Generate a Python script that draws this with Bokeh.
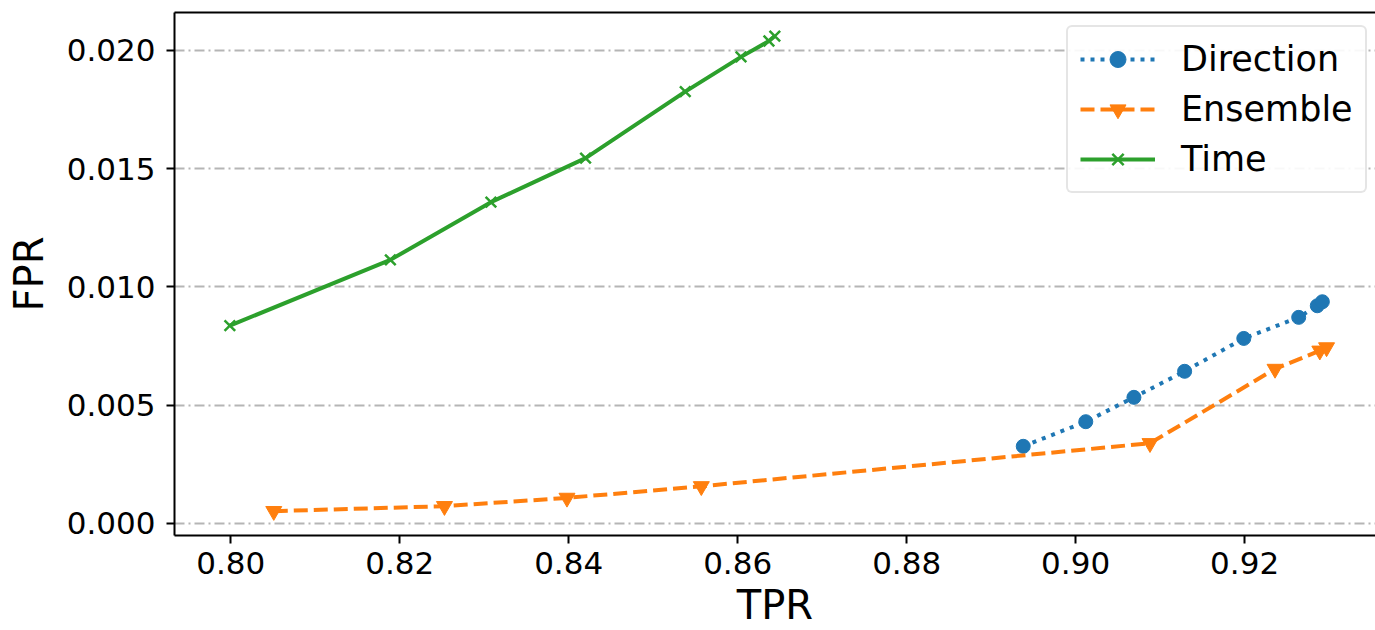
from bokeh.plotting import figure
from bokeh.models import (Range1d, FixedTicker, NumeralTickFormatter, LinearAxis,
                          Legend, LegendItem)
from bokeh.embed import file_html
from bokeh.resources import INLINE

# ---- data ----
direction_tpr = [0.8938, 0.9012, 0.9069, 0.9129, 0.9199, 0.9264, 0.9286, 0.9292]
direction_fpr = [0.00326, 0.00430, 0.00533, 0.00643, 0.00782, 0.00871, 0.00920, 0.00937]

ensemble_tpr = [0.8051, 0.8253, 0.8398, 0.8557, 0.9088, 0.9236, 0.9289, 0.9297]
ensemble_fpr = [0.00052, 0.00073, 0.00108, 0.00157, 0.00339, 0.00653, 0.00730, 0.00744]

time_tpr = [0.7999, 0.8189, 0.8308, 0.8420, 0.8538, 0.8604, 0.8637, 0.8644]
time_fpr = [0.00836, 0.01114, 0.01358, 0.01544, 0.01825, 0.01972, 0.02039, 0.02060]

x_ticks = [0.80, 0.82, 0.84, 0.86, 0.88, 0.90, 0.92]
y_ticks = [0.000, 0.005, 0.010, 0.015, 0.020]

FONT = "DejaVu Sans"
BLUE, ORANGE, GREEN = "#1f77b4", "#ff7f0e", "#2ca02c"

p = figure(width=1375, height=630, output_backend="svg", toolbar_location=None,
           x_range=Range1d(0.79335, 0.93549), y_range=Range1d(-0.00051, 0.021596),
           min_border_left=174, min_border_right=0, min_border_top=12, min_border_bottom=95)
p.outline_line_color = None
p.background_fill_color = "white"
p.border_fill_color = "white"

# axes
for ax, ticks, fmt in ((p.xaxis[0], x_ticks, "0.00"), (p.yaxis[0], y_ticks, "0.000")):
    ax.ticker = FixedTicker(ticks=ticks)
    ax.formatter = NumeralTickFormatter(format=fmt)
    ax.major_label_text_font = FONT
    ax.major_label_text_font_size = "31px"
    ax.major_label_text_color = "black"
    ax.axis_line_color = "black"
    ax.axis_line_width = 2
    ax.major_tick_line_color = "black"
    ax.major_tick_line_width = 2
    ax.major_tick_out = 8
    ax.major_tick_in = 0
    ax.minor_tick_line_color = None
    ax.axis_label_text_font = FONT
    ax.axis_label_text_font_style = "normal"
    ax.axis_label_text_color = "black"

p.xaxis.axis_label = "TPR"
p.xaxis.axis_label_text_font_size = "40px"
p.xaxis.major_label_standoff = 8
p.xaxis.axis_label_standoff = 5
p.yaxis.axis_label = "FPR"
p.yaxis.axis_label_text_font_size = "40px"
p.yaxis.major_label_standoff = 11
p.yaxis.axis_label_standoff = 12

top = LinearAxis(ticker=FixedTicker(ticks=[]), major_label_text_font_size="0px",
                 major_tick_out=0, major_tick_in=0, minor_tick_out=0, minor_tick_in=0,
                 major_label_standoff=0, axis_line_color="black", axis_line_width=2)
p.add_layout(top, "above")

# grid
p.xgrid.grid_line_color = None
p.ygrid.ticker = FixedTicker(ticks=y_ticks)
p.ygrid.grid_line_color = "#b5b5b5"
p.ygrid.grid_line_width = 2
p.ygrid.grid_line_dash = "10 4 2 4"

# series
d_line = p.line(direction_tpr, direction_fpr, line_color=BLUE, line_width=4, line_dash="4 6")
d_pts = p.scatter(direction_tpr, direction_fpr, marker="circle", size=14,
                  fill_color=BLUE, line_color=BLUE)
e_line = p.line(ensemble_tpr, ensemble_fpr, line_color=ORANGE, line_width=4, line_dash="14 6")
e_pts = p.scatter(ensemble_tpr, ensemble_fpr, marker="inverted_triangle", size=16,
                  fill_color=ORANGE, line_color=ORANGE)
t_line = p.line(time_tpr, time_fpr, line_color=GREEN, line_width=4)
t_pts = p.scatter(time_tpr, time_fpr, marker="x", size=15, line_color=GREEN, line_width=2.5)

legend = Legend(items=[
    LegendItem(label="Direction", renderers=[d_line, d_pts]),
    LegendItem(label="Ensemble", renderers=[e_line, e_pts]),
    LegendItem(label="Time", renderers=[t_line, t_pts]),
], location=(892, 342))
legend.label_text_font = FONT
legend.label_text_font_size = "35px"
legend.label_text_color = "black"
legend.glyph_width = 75
legend.glyph_height = 40
legend.label_standoff = 26
legend.padding = 12
legend.spacing = 10
legend.margin = 0
legend.border_line_color = "#cccccc"
legend.border_line_width = 2
legend.background_fill_color = "white"
legend.background_fill_alpha = 0.9
if "border_radius" in legend.properties():
    legend.border_radius = 6
p.add_layout(legend, "center")

open("out.html", "w").write(file_html(p, INLINE))
